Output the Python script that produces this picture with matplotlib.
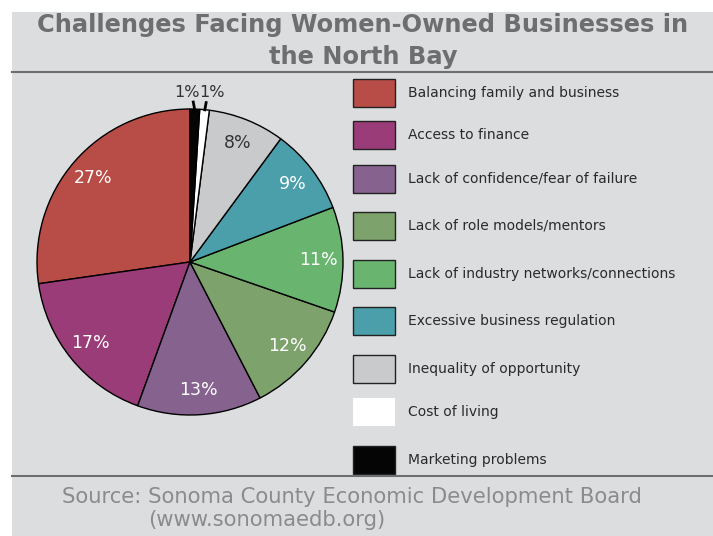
import numpy as np
import matplotlib
matplotlib.use("Agg")
from matplotlib import pyplot as plt
from matplotlib.patches import Rectangle
from matplotlib.lines import Line2D

categories = [
    "Balancing family and business",
    "Access to finance",
    "Lack of confidence/fear of failure",
    "Lack of role models/mentors",
    "Lack of industry networks/connections",
    "Excessive business regulation",
    "Inequality of opportunity",
    "Cost of living",
    "Marketing problems",
]
shares = [27, 17, 13, 12, 11, 9, 8, 1, 1]
colors = ["#b84c47", "#9a3c78", "#86628f", "#7ea26b", "#69b56f",
          "#4b9fab", "#c9cacc", "#ffffff", "#050505"]
label_colors = ["white"] * 6 + ["#333333"]

W, H = 713, 536
bg = "#dcdddf"
dark = "#6d6e70"
plt.rcParams["font.family"] = "DejaVu Sans"

fig = plt.figure(figsize=(W / 100, H / 100), dpi=100, facecolor="white")

# gray panel with a thin white margin at top/left
fig.patches.append(Rectangle((12 / W, 0), 1, 1 - 12 / H, transform=fig.transFigure,
                             facecolor=bg, edgecolor="none", zorder=-5))
for yy in (72, 476):
    fig.lines.append(Line2D([12 / W, 1], [1 - yy / H] * 2, transform=fig.transFigure,
                            color=dark, lw=1.5))

fig.text(363 / W, 1 - 25 / H, "Challenges Facing Women-Owned Businesses in",
         ha="center", va="center", fontsize=17.4, fontweight="bold", color=dark)
fig.text(363 / W, 1 - 57 / H, "the North Bay",
         ha="center", va="center", fontsize=17.4, fontweight="bold", color=dark)

# pie centred at (190, 262) px, radius 153 px
cx, cy, r = 190, 262, 153
ax = fig.add_axes([(cx - r) / W, 1 - (cy + r) / H, 2 * r / W, 2 * r / H])
wedges, _ = ax.pie(shares, colors=colors, startangle=90, counterclock=True,
                   radius=1, wedgeprops=dict(edgecolor="black", linewidth=1.0))
ax.set_xlim(-1, 1)
ax.set_ylim(-1, 1)
ax.axis("off")

for i, (w, val) in enumerate(zip(wedges, shares)):
    mid = np.deg2rad((w.theta1 + w.theta2) / 2)
    if val >= 5:
        ax.text(0.84 * np.cos(mid), 0.84 * np.sin(mid), f"{val}%",
                ha="center", va="center", fontsize=12.5, color=label_colors[i])
    else:
        side = -1 if i == len(shares) - 1 else 1
        x0, y0 = np.cos(mid), 0.99 * np.sin(mid)
        ax.plot([x0, x0 + side * 0.012], [y0, y0 + 0.065], color="black", lw=2,
                clip_on=False, solid_capstyle="butt")
        ax.text(x0 + side * 0.05, 1.11, f"{val}%", ha="center", va="center",
                fontsize=11.5, color="#333333")

# legend
rows = [93, 135, 179, 226, 274, 321, 369, 412, 460]
for name, col, yy in zip(categories, colors, rows):
    fig.patches.append(Rectangle((353 / W, 1 - (yy + 14) / H), 42 / W, 28 / H,
                                 transform=fig.transFigure, facecolor=col,
                                 edgecolor="#222222" if col != "#ffffff" else "none",
                                 lw=1.0))
    fig.text(408 / W, 1 - yy / H, name, ha="left", va="center", fontsize=10,
             color="#2a2a2a")

fig.text(62 / W, 1 - 497 / H, "Source: Sonoma County Economic Development Board",
         ha="left", va="center", fontsize=15.2, color="#8a8b8d")
fig.text(148 / W, 1 - 520 / H, "(www.sonomaedb.org)",
         ha="left", va="center", fontsize=15.2, color="#8a8b8d")

fig.savefig("out.png", dpi=100, facecolor="white")
